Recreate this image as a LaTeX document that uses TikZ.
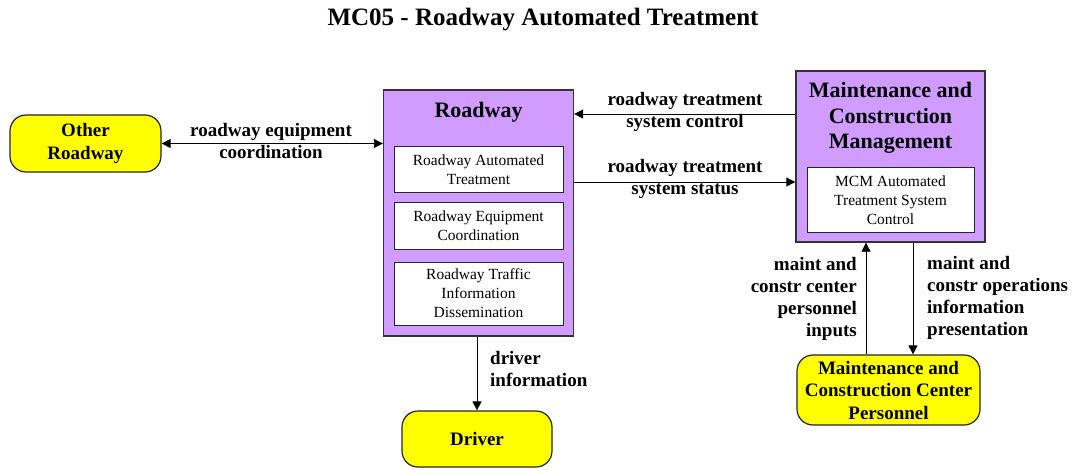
\documentclass[tikz,border=0pt]{standalone}
\usepackage{fontspec}
\setmainfont{Liberation Serif}
\usetikzlibrary{arrows.meta}
\definecolor{sysfill}{HTML}{D09CFF}
\definecolor{termfill}{HTML}{FFFF00}
\tikzset{
  sysbox/.style={draw=black!80, line width=1.4pt, fill=sysfill, inner sep=0pt},
  funcbox/.style={draw=black!85, line width=1pt, fill=white, inner sep=0pt,
    align=center, font=\fontsize{15.5}{19}\selectfont},
  termbox/.style={draw=black!85, line width=1.2pt, fill=termfill, rounded corners=16pt,
    inner sep=0pt, align=center, font=\bfseries\fontsize{19}{22.5}\selectfont},
  flow/.style={draw=black, line width=0.9pt, -{Triangle[length=9pt,width=9pt]}},
  bothflow/.style={draw=black, line width=0.9pt, {Triangle[length=9pt,width=9pt]}-{Triangle[length=9pt,width=9pt]}},
  flowlabel/.style={font=\bfseries\fontsize{19}{22}\selectfont, inner sep=0pt},
  systitle/.style={font=\bfseries\fontsize{22}{25.5}\selectfont, align=center, inner sep=0pt}
}
\begin{document}
\begin{tikzpicture}[x=1pt,y=-1pt]
\useasboundingbox (0,0) rectangle (1075,470);

% title
\node[font=\bfseries\fontsize{25}{28}\selectfont] (title) at (543,20) {MC05 - Roadway Automated Treatment};

% Roadway subsystem
\node[sysbox, minimum width=190pt, minimum height=246pt] (rw) at (478.5,213) {};
\node[systitle] (rwt) at (478.5,112) {Roadway};
\node[funcbox, minimum width=169pt, minimum height=46pt] (rw1) at (478.5,170) {Roadway Automated\\Treatment};
\node[funcbox, minimum width=169pt, minimum height=46pt] (rw2) at (478.5,226) {Roadway Equipment\\Coordination};
\node[funcbox, minimum width=169pt, minimum height=63pt] (rw3) at (478.5,293.5) {Roadway Traffic\\Information\\Dissemination};

% Maintenance and Construction Management subsystem
\node[sysbox, minimum width=189pt, minimum height=171pt] (mcm) at (890.5,156.5) {};
\node[systitle] (mcmt) at (890.5,118) {Maintenance and\\Construction\\Management};
\node[funcbox, minimum width=167pt, minimum height=65pt] (mcm1) at (890.5,200.5) {MCM Automated\\Treatment System\\Control};

% terminators
\node[termbox, minimum width=151pt, minimum height=57pt] (other) at (85.5,143.5) {Other\\Roadway};
\node[termbox, minimum width=150pt, minimum height=56pt] (driver) at (477,439) {Driver};
\node[termbox, minimum width=183pt, minimum height=70pt] (mccp) at (888.5,390) {Maintenance and\\Construction Center\\Personnel};

% flows
\draw[bothflow] (other.east) -- (rw.west |- other.east);
\node[flowlabel, align=center] (l1) at (271,141) {roadway equipment\\coordination};

\coordinate (ctlA) at (mcm.west |- 0,114);
\draw[flow] (ctlA) -- (rw.east |- ctlA);
\node[flowlabel, align=center] (l2) at (685,112) {roadway treatment\\system control};

\coordinate (stsA) at (rw.east |- 0,182);
\draw[flow] (stsA) -- (mcm.west |- stsA);
\node[flowlabel, align=center] (l3) at (685,179) {roadway treatment\\system status};

\draw[flow] (rw.south -| driver.north) -- (driver.north);
\node[flowlabel, align=left, anchor=west] (l4) at (490,369) {driver\\information};

\coordinate (upA) at (866,0);
\draw[flow] (mccp.north -| upA) -- (mcm.south -| upA);
\node[flowlabel, align=right, anchor=east] (l5) at (857,299) {maint and\\constr center\\personnel\\inputs};

\coordinate (dnA) at (913,0);
\draw[flow] (mcm.south -| dnA) -- (mccp.north -| dnA);
\node[flowlabel, align=left, anchor=west] (l6) at (927,298) {maint and\\constr operations\\information\\presentation};
\end{tikzpicture}
\end{document}
